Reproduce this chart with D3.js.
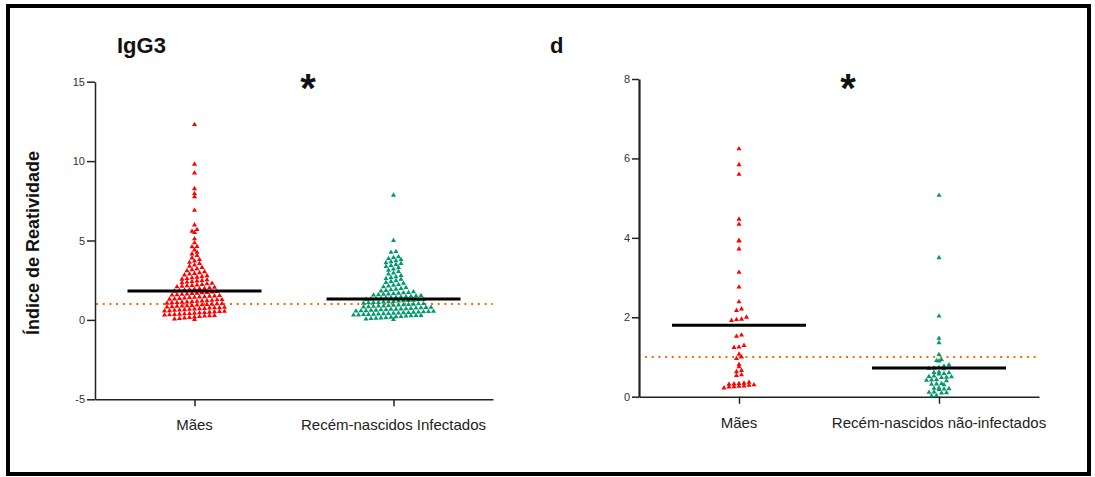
<!DOCTYPE html>
<html>
<head>
<meta charset="utf-8">
<script src="https://cdn.jsdelivr.net/npm/d3@7"></script>
<style>
  html, body { margin: 0; padding: 0; background: #fff; }
  svg { display: block; }
  text { font-family: Arial, "Liberation Sans", sans-serif; }
</style>
</head>
<body>
<svg id="chart" width="1095" height="477"></svg>
<script>
// ---------------- DATA ----------------
const leftCategories = ["Mães", "Recém-nascidos Infectados"];
const rightCategories = ["Mães", "Recém-nascidos não-infectados"];

const leftMaes = [
  0.02,0.06,0.09,0.12,0.15,0.18,0.21,0.24,
  0.26,0.28,0.30,0.32,0.34,0.36,0.38,0.40,0.42,0.44,0.46,0.48,
  0.51,0.52,0.54,0.56,0.58,0.60,0.62,0.64,0.66,0.68,0.70,0.72,0.74,
  0.76,0.77,0.79,0.81,0.83,0.85,0.87,0.89,0.91,0.93,0.95,0.97,0.99,
  1.01,1.03,1.05,1.07,1.09,1.11,1.13,1.15,1.17,1.19,1.21,1.23,
  1.26,1.28,1.30,1.32,1.35,1.37,1.40,1.42,1.44,1.46,1.49,
  1.51,1.53,1.56,1.58,1.61,1.63,1.66,1.68,1.71,1.73,
  1.76,1.78,1.81,1.84,1.87,1.90,1.93,1.96,1.98,
  2.02,2.05,2.08,2.11,2.14,2.17,2.20,2.23,
  2.27,2.30,2.34,2.38,2.41,2.45,2.48,
  2.52,2.56,2.60,2.65,2.69,2.73,
  2.78,2.83,2.88,2.92,2.97,
  3.03,3.10,3.16,3.22,
  3.30,3.38,3.45,
  3.55,3.62,3.70,
  3.80,3.90,
  4.05,4.15,4.25,4.40,
  4.60,4.62,4.85,
  5.10,5.50,5.58,5.69,5.98,
  6.90,7.76,7.95,8.26,9.25,9.80,12.30
];
const leftRN = [
  0.03,0.05,0.08,0.10,0.12,0.14,0.17,0.19,0.21,0.24,
  0.26,0.27,0.28,0.30,0.31,0.33,0.34,0.36,0.37,0.39,0.40,0.42,0.43,0.45,0.46,0.48,0.49,
  0.51,0.52,0.54,0.55,0.57,0.58,0.60,0.61,0.63,0.64,0.66,0.67,0.69,0.70,0.72,0.74,
  0.76,0.78,0.79,0.81,0.83,0.85,0.87,0.88,0.90,0.92,0.94,0.95,0.97,0.99,
  1.01,1.03,1.05,1.07,1.09,1.10,1.12,1.14,1.16,1.18,1.20,1.22,1.24,
  1.26,1.28,1.30,1.32,1.34,1.36,1.38,1.40,1.42,1.44,1.46,1.48,
  1.51,1.53,1.56,1.58,1.61,1.63,1.66,1.68,1.71,1.73,
  1.77,1.81,1.85,1.89,1.93,1.97,
  2.03,2.08,2.13,2.18,2.22,
  2.30,2.36,2.42,2.47,
  2.55,2.60,2.66,2.71,
  2.80,2.88,2.95,
  3.05,3.13,3.20,
  3.30,3.36,3.42,3.48,
  3.55,3.60,3.66,3.72,
  3.80,3.86,3.92,3.97,
  4.25,4.30,
  5.00,7.85
];
const rightMaes = [
  6.24,5.84,5.60,4.47,4.34,3.93,3.92,3.72,3.13,2.76,2.39,2.21,2.17,2.00,
  1.94,1.92,1.95,1.55,1.52,1.29,1.25,1.24,1.07,1.00,0.96,0.81,0.75,0.66,
  0.63,0.55,0.53,0.36,0.33,0.31,0.30,0.32,0.29,0.34,0.26,0.24,0.22,0.25,0.27
];
const rightRN = [
  5.07,3.50,2.03,1.47,1.36,1.06,0.93,0.91,0.90,0.80,0.77,0.74,0.72,0.70,0.71,
  0.62,0.60,0.58,0.61,0.57,0.50,0.52,0.48,0.49,0.51,0.42,0.40,0.43,0.41,
  0.33,0.31,0.30,0.32,0.20,0.22,0.18,0.21,0.19,0.11,0.10,0.09,0.12,0.03,0.02
];

const leftMeans = [1.82, 1.32];
const rightMeans = [1.80, 0.72];
const cutoff = 1.0;
const leftTicks = [-5, 0, 5, 10, 15];
const rightTicks = [0, 2, 4, 6, 8];

// ---------------- DRAW ----------------
const svg = d3.select("#chart");
const RED = "#ff0000", GREEN = "#00996b", ORANGE = "#ff6a00";

// frame
svg.append("rect").attr("x", 8).attr("y", 6).attr("width", 1081).attr("height", 468)
  .attr("fill", "none").attr("stroke", "#000").attr("stroke-width", 4);

function swarm(values, y, cx, rowH, dx) {
  const bins = new Map();
  values.forEach(v => {
    const k = Math.floor((y.range()[0] - y(v)) / rowH);
    if (!bins.has(k)) bins.set(k, []);
    bins.get(k).push(v);
  });
  const pts = [];
  bins.forEach(arr => {
    arr.sort((a, b) => a - b);
    const n = arr.length;
    arr.forEach((v, i) => {
      pts.push({ v, x: cx + (i - (n - 1) / 2) * dx, y: y(v) });
    });
  });
  return pts;
}

function panel(opts) {
  const g = svg.append("g");
  const x = d3.scalePoint().domain(opts.categories).range(opts.xRange).padding(0.5);
  const y = d3.scaleLinear().domain(opts.yDomain).range(opts.yRange);

  // cutoff dotted line
  g.append("line")
    .attr("x1", opts.dotStart).attr("x2", opts.xRange[1])
    .attr("y1", y(cutoff)).attr("y2", y(cutoff))
    .attr("stroke", ORANGE).attr("stroke-width", 2)
    .attr("stroke-dasharray", "2,4.7");

  // y axis
  const ya = g.append("g").attr("transform", `translate(${opts.xRange[0]},0)`)
    .call(d3.axisLeft(y).tickValues(opts.ticks).tickSize(opts.tickLen).tickSizeOuter(0)
      .tickPadding(2).tickFormat(d => String(d)));
  ya.select(".domain").attr("stroke", "#222").attr("stroke-width", opts.axisW);
  ya.selectAll(".tick line").attr("stroke", "#222").attr("stroke-width", 1.5);
  ya.selectAll(".tick text").attr("fill", "#333").attr("font-size", 11)
    .attr("font-family", "Arial, 'Liberation Sans', sans-serif");

  // x axis
  const xa = g.append("g").attr("transform", `translate(0,${opts.yRange[0]})`)
    .call(d3.axisBottom(x).tickSize(7).tickSizeOuter(0).tickFormat(""));
  xa.select(".domain").attr("stroke", "#222").attr("stroke-width", 1.5);
  xa.selectAll(".tick line").attr("stroke", "#222").attr("stroke-width", 1.5);

  g.selectAll(".cat").data(opts.categories).enter().append("text")
    .attr("x", d => x(d)).attr("y", opts.labelY)
    .attr("text-anchor", "middle").attr("font-size", 15).attr("fill", "#222")
    .text(d => d);

  const sym = d3.symbol().type(d3.symbolTriangle).size(11);
  opts.series.forEach((vals, i) => {
    const pts = swarm(vals, y, x(opts.categories[i]), opts.rowH, 5);
    g.selectAll(null).data(pts).enter().append("path")
      .attr("d", sym).attr("transform", d => `translate(${d.x},${d.y})`)
      .attr("fill", opts.colors[i]);
  });

  // mean lines
  g.selectAll(".mean").data(opts.means).enter().append("line")
    .attr("x1", (d, i) => x(opts.categories[i]) - 67)
    .attr("x2", (d, i) => x(opts.categories[i]) + 67)
    .attr("y1", d => y(d)).attr("y2", d => y(d))
    .attr("stroke", "#000").attr("stroke-width", 3);
  return { x, y };
}

panel({
  categories: leftCategories, xRange: [95, 493], yDomain: [-5, 15], yRange: [399.3, 81.7],
  ticks: leftTicks, tickLen: 8, axisW: 1.5, dotStart: 96, labelY: 430,
  series: [leftMaes, leftRN], colors: [RED, GREEN], means: leftMeans, rowH: 4
});
panel({
  categories: rightCategories, xRange: [639, 1039], yDomain: [0, 8], yRange: [396.7, 79],
  ticks: rightTicks, tickLen: 7, axisW: 2.2, dotStart: 645, labelY: 428,
  series: [rightMaes, rightRN], colors: [RED, GREEN], means: rightMeans, rowH: 4
});

// titles
svg.append("text").attr("x", 117).attr("y", 53).attr("font-size", 22).attr("font-weight", "bold")
  .attr("fill", "#111").text("IgG3");
svg.append("text").attr("x", 550).attr("y", 53).attr("font-size", 22).attr("font-weight", "bold")
  .attr("fill", "#111").text("d");
svg.append("text").attr("x", 308).attr("y", 102).attr("text-anchor", "middle").attr("font-size", 40)
  .attr("font-weight", "bold").attr("fill", "#111").text("*");
svg.append("text").attr("x", 848).attr("y", 102).attr("text-anchor", "middle").attr("font-size", 40)
  .attr("font-weight", "bold").attr("fill", "#111").text("*");

// y label
svg.append("text").attr("transform", "translate(39,243) rotate(-90)")
  .attr("text-anchor", "middle").attr("font-size", 18).attr("font-weight", "bold").attr("fill", "#111")
  .text("Índice de Reatividade");
</script>
</body>
</html>
